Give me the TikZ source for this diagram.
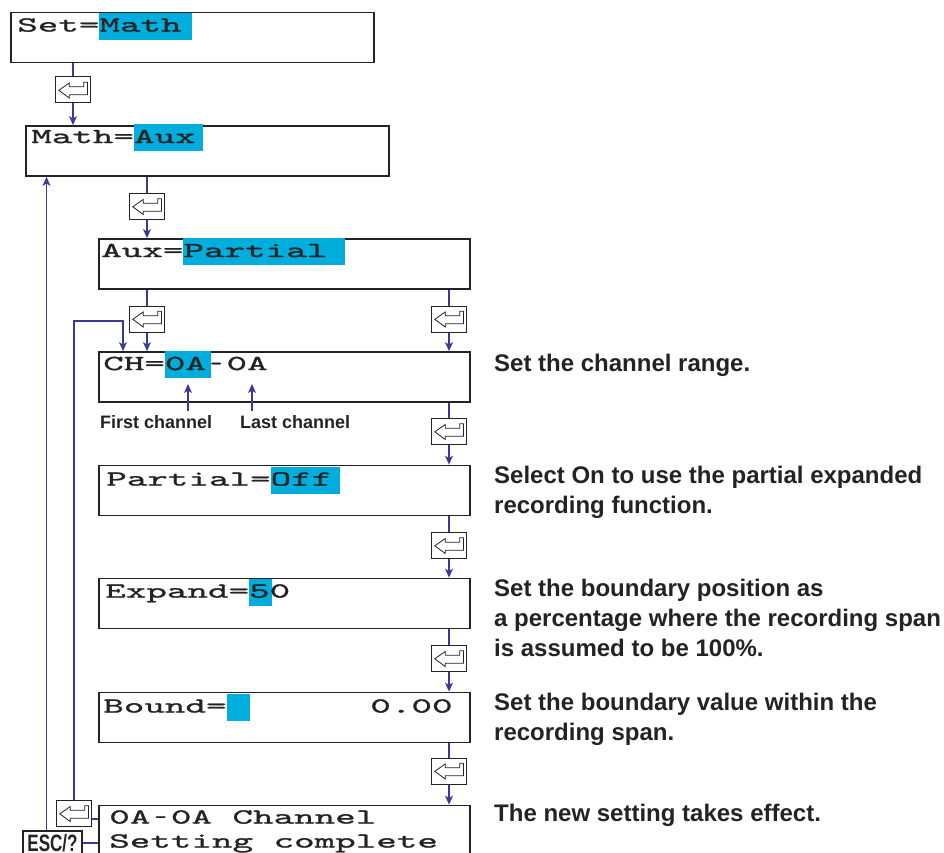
\documentclass[tikz,border=0pt]{standalone}
\usepackage{fontspec}
\usepackage{graphicx}
\setmainfont{Liberation Sans}
\newfontfamily\lcdfont[FakeStretch=1.82,FakeBold=1.2]{lmmono10-regular.otf}
\newfontfamily\escfont[FakeStretch=0.72]{Liberation Sans}
\usetikzlibrary{arrows.meta,positioning,calc}
\definecolor{lcdcyan}{RGB}{0,174,222}
\definecolor{lineblue}{RGB}{58,58,150}
\definecolor{inkgray}{RGB}{35,35,35}
\newcommand\hl[1]{\setbox0=\hbox{#1}\rlap{\textcolor{lcdcyan}{\rule[-8pt]{1.12\wd0}{27pt}}}\box0\relax}
\newcommand\lcddash{\makebox[\fontcharwd\font`0][c]{\scalebox{0.6}[1]{-}}}
\tikzset{
 screen/.style={draw=inkgray,line width=1.8pt,minimum width=371pt,minimum height=50pt,inner sep=0pt},
 lcd/.style={font=\lcdfont\fontsize{21.5}{24}\selectfont,text=inkgray,inner sep=0pt,anchor=base west},
 enterkey/.style={draw=inkgray,line width=1pt,fill=white,minimum width=35pt,minimum height=26pt,inner sep=0pt,
   path picture={\draw[inkgray,line width=0.8pt,shift={(path picture bounding box.center)}]
     (-14.2pt,-0.3pt) -- (-3.8pt,7pt) -- (-3.8pt,3.3pt) -- (10.8pt,3.3pt) -- (10.8pt,7.7pt)
     -- (14.5pt,7.7pt) -- (14.5pt,-4.7pt) -- (-3.8pt,-4.7pt) -- (-3.8pt,-8pt) -- cycle;}},
 esckey/.style={draw=inkgray,line width=1.6pt,fill=white,minimum width=59pt,inner sep=0pt,
   text height=21pt,text depth=9pt,anchor=north,
   font=\escfont\bfseries\fontsize{23.7}{24}\selectfont,text=inkgray},
 note/.style={font=\bfseries\fontsize{24}{30}\selectfont,text=inkgray,align=left,anchor=north west,inner sep=0pt},
 chlabel/.style={font=\bfseries\fontsize{18}{20}\selectfont,text=inkgray,inner sep=4pt,anchor=base west},
 conn/.style={draw=lineblue,line width=1.2pt},
 arrow/.style={conn,-{Stealth[length=9pt,width=8pt,inset=2.5pt]}}
}
\begin{document}
\begin{tikzpicture}[x=1pt,y=-1pt]
\useasboundingbox (0,0) rectangle (944,853);
% screens
\node[screen,minimum width=363pt] (set) at (192.5,37.5) {};
\node[screen,minimum width=363pt] (math) at (207.5,151) {};
\node[screen] (aux) at (284.5,264) {};
\node[screen] (ch) at (284.5,377) {};
\node[screen] (partial) at (284.5,490.5) {};
\node[screen] (expand) at (284.5,603.5) {};
\node[screen] (bound) at (284.5,717.5) {};
\node[screen] (done) at (284.5,830.5) {};
% screen texts
\node[lcd] (settxt) at ([xshift=7pt,yshift=-20pt]set.north west) {Set=\hl{Math}};
\node[lcd] (mathtxt) at ([xshift=6pt,yshift=-18pt]math.north west) {Math=\hl{Aux}};
\node[lcd] (auxtxt) at ([xshift=3pt,yshift=-19pt]aux.north west) {Aux=\hl{Partial}};
\node[lcd] (chtxt) at ([xshift=5pt,yshift=-19pt]ch.north west) {CH=\hl{0A}\lcddash0A};
\node[lcd] (parttxt) at ([xshift=8pt,yshift=-21pt]partial.north west) {Partial=\hl{Off}};
\node[lcd] (exptxt) at ([xshift=7pt,yshift=-20pt]expand.north west) {Expand=\hl{5}0};
\node[lcd] (boundtxt) at ([xshift=5pt,yshift=-21pt]bound.north west) {Bound=\hl{\phantom{0}}\phantom{000000}0.00};
\node[lcd] (donetxt) at ([xshift=11pt,yshift=-19pt]done.north west) {0A\lcddash0A Channel};
\node[lcd] (donetxt2) at ([xshift=11pt,yshift=-43pt]done.north west) {Setting complete};
% keys
\node[enterkey] (k1) at (73,90) {};
\node[enterkey] (k2) at (147,206.5) {};
\node[enterkey] (k3) at (147,319) {};
\node[enterkey] (k4) at (449,319) {};
\node[enterkey] (k5) at (449,431.5) {};
\node[enterkey] (k6) at (449,545.5) {};
\node[enterkey] (k7) at (449,658.5) {};
\node[enterkey] (k8) at (449,771) {};
\node[enterkey] (k9) at (74,813.5) {};
\node[esckey] (esc) at (52.5,830) {ESC/?};
% channel labels
\node[chlabel] (firstlbl) at (96,428) {First channel};
\node[chlabel] (lastlbl) at (236,428) {Last channel};
\coordinate (firsttip) at (188,384);
\coordinate (lasttip) at (252,384);
\coordinate (loopcorner) at (123,321);
% notes
\node[note] (chnote) at (494,353.5) {Set the channel range.};
\node[note] (partnote) at (494,465.5) {Select On to use the partial expanded\\recording function.};
\node[note] (expnote) at (494,578.5) {Set the boundary position as\\a percentage where the recording span\\is assumed to be 100\%.};
\node[note] (boundnote) at (494,692.5) {Set the boundary value within the\\recording span.};
\node[note] (donenote) at (494,803.5) {The new setting takes effect.};
% connectors
\draw[conn] (set.south -| k1) -- (k1);
\draw[arrow] (k1) -- (k1 |- math.north);
\draw[conn] (math.south -| k2) -- (k2);
\draw[arrow] (k2) -- (k2 |- aux.north);
\draw[conn] (aux.south -| k3) -- (k3);
\draw[arrow] (k3) -- (k3 |- ch.north);
\draw[conn] (aux.south -| k4) -- (k4);
\draw[arrow] (k4) -- (k4 |- ch.north);
\draw[conn] (ch.south -| k5) -- (k5);
\draw[arrow] (k5) -- (k5 |- partial.north);
\draw[conn] (partial.south -| k6) -- (k6);
\draw[arrow] (k6) -- (k6 |- expand.north);
\draw[conn] (expand.south -| k7) -- (k7);
\draw[arrow] (k7) -- (k7 |- bound.north);
\draw[conn] (bound.south -| k8) -- (k8);
\draw[arrow] (k8) -- (k8 |- done.north);
\draw[arrow] (k9.north) |- (loopcorner) -- (loopcorner |- ch.north);
\draw[conn] ([yshift=-5.5pt]k9.east) -- ([yshift=-5.5pt]k9.east -| done.west);
\draw[arrow] ([xshift=-6pt]esc.north) -- ([xshift=-6pt]esc.north |- math.south);
\draw[conn] ([yshift=-13pt]esc.north east) -- ([yshift=-13pt]esc.north east -| done.west);
\draw[arrow] (firstlbl.north -| firsttip) -- (firsttip);
\draw[arrow] (lastlbl.north -| lasttip) -- (lasttip);
\end{tikzpicture}
\end{document}
